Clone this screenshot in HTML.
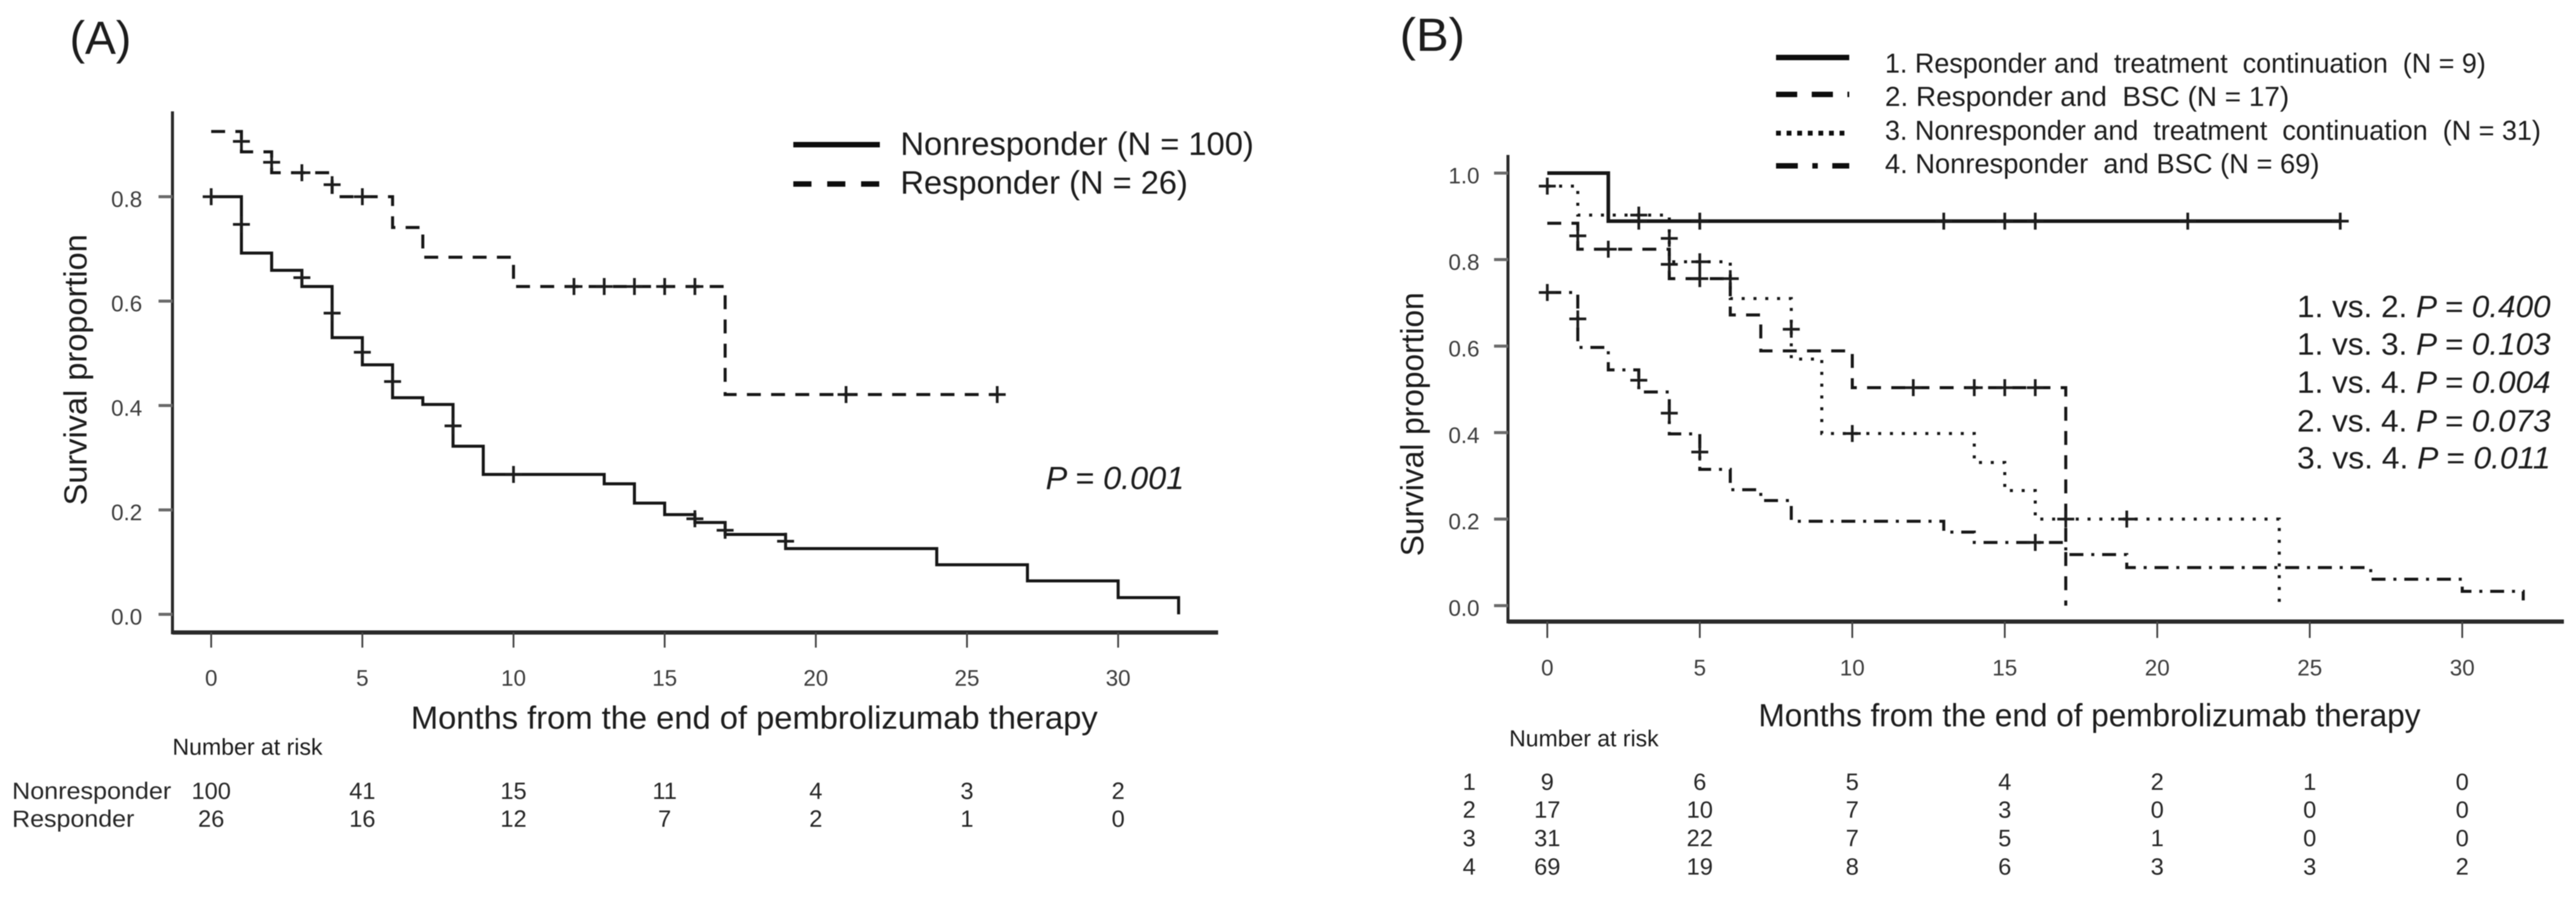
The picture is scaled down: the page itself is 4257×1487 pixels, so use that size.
<!DOCTYPE html>
<html lang="en">
<head>
<meta charset="utf-8">
<title>Kaplan-Meier survival curves</title>
<style>
html,body{margin:0;padding:0;background:#fff;}
svg{display:block;}
text{font-family:"Liberation Sans",sans-serif;fill:#1c1c1c;}
.tick{font-size:37px;fill:#3e3e3e;}
.risk{font-size:39px;fill:#262626;}
.axis-title{font-size:53px;}
.legend{font-size:54px;}
.legend-b{font-size:45px;}
.pval{font-size:51px;}
</style>
</head>
<body>
<svg id="chart" xmlns="http://www.w3.org/2000/svg" width="4257" height="1487" viewBox="0 0 4257 1487">
  <defs><filter id="soft" x="-2%" y="-2%" width="104%" height="104%"><feGaussianBlur stdDeviation="0.9"/></filter></defs>
  <rect width="4257" height="1487" fill="#fff"/>
  <g id="root" filter="url(#soft)">
    <g id="panelA">
      <text x="115" y="89" font-size="77" textLength="102" lengthAdjust="spacingAndGlyphs">(A)</text>
      <text class="axis-title" transform="translate(143,835) rotate(-90)" textLength="448" lengthAdjust="spacingAndGlyphs">Survival proportion</text>
      <text class="axis-title" x="679" y="1204" textLength="1135" lengthAdjust="spacingAndGlyphs">Months from the end of pembrolizumab therapy</text>
      <text class="legend" x="1488" y="256" textLength="584" lengthAdjust="spacingAndGlyphs">Nonresponder (N = 100)</text>
      <text class="legend" x="1488" y="320" textLength="475" lengthAdjust="spacingAndGlyphs">Responder (N = 26)</text>
      <line x1="1311" x2="1454" y1="239" y2="239" stroke="#111" stroke-width="9"/>
      <line x1="1311" x2="1454" y1="304" y2="304" stroke="#111" stroke-width="9" stroke-dasharray="30 26"/>
      <text x="1728" y="808" font-size="53" font-style="italic" textLength="229" lengthAdjust="spacingAndGlyphs">P = 0.001</text>
      <text x="285" y="1247" font-size="38" textLength="248" lengthAdjust="spacingAndGlyphs">Number at risk</text>
      <text class="risk" x="20" y="1320" textLength="263" lengthAdjust="spacingAndGlyphs">Nonresponder</text>
      <text class="risk" x="20" y="1366" textLength="202" lengthAdjust="spacingAndGlyphs">Responder</text>
    </g>
    <g id="panelB">
      <text x="2313" y="84" font-size="77" textLength="108" lengthAdjust="spacingAndGlyphs">(B)</text>
      <text class="axis-title" transform="translate(2352,919) rotate(-90)" textLength="436" lengthAdjust="spacingAndGlyphs">Survival proportion</text>
      <text class="axis-title" x="2906" y="1200" textLength="1094" lengthAdjust="spacingAndGlyphs">Months from the end of pembrolizumab therapy</text>
      <line x1="2935" x2="3056" y1="95" y2="95" stroke="#111" stroke-width="9"/>
      <line x1="2935" x2="3056" y1="156" y2="156" stroke="#111" stroke-width="9" stroke-dasharray="35 24"/>
      <line x1="2935" x2="3056" y1="220" y2="220" stroke="#111" stroke-width="8" stroke-dasharray="8 9.5"/>
      <line x1="2935" x2="3056" y1="274" y2="274" stroke="#111" stroke-width="9" stroke-dasharray="36 24 9 24"/>
      <text class="legend-b" xml:space="preserve" x="3115" y="120" textLength="993" lengthAdjust="spacingAndGlyphs">1. Responder and  treatment  continuation  (N = 9)</text>
      <text class="legend-b" xml:space="preserve" x="3115" y="175" textLength="668" lengthAdjust="spacingAndGlyphs">2. Responder and  BSC (N = 17)</text>
      <text class="legend-b" xml:space="preserve" x="3115" y="231" textLength="1084" lengthAdjust="spacingAndGlyphs">3. Nonresponder and  treatment  continuation  (N = 31)</text>
      <text class="legend-b" xml:space="preserve" x="3115" y="286" textLength="718" lengthAdjust="spacingAndGlyphs">4. Nonresponder  and BSC (N = 69)</text>
      <text class="pval" x="3796" y="524" textLength="419" lengthAdjust="spacingAndGlyphs">1. vs. 2. <tspan font-style="italic">P = 0.400</tspan></text>
      <text class="pval" x="3796" y="586" textLength="419" lengthAdjust="spacingAndGlyphs">1. vs. 3. <tspan font-style="italic">P = 0.103</tspan></text>
      <text class="pval" x="3796" y="649" textLength="419" lengthAdjust="spacingAndGlyphs">1. vs. 4. <tspan font-style="italic">P = 0.004</tspan></text>
      <text class="pval" x="3796" y="713" textLength="419" lengthAdjust="spacingAndGlyphs">2. vs. 4. <tspan font-style="italic">P = 0.073</tspan></text>
      <text class="pval" x="3796" y="774" textLength="419" lengthAdjust="spacingAndGlyphs">3. vs. 4. <tspan font-style="italic">P = 0.011</tspan></text>
      <text x="2494" y="1233" font-size="38" textLength="247" lengthAdjust="spacingAndGlyphs">Number at risk</text>
    </g>
  </g>
</svg>
<script>
// ---------- shared tick labels ----------
const xTickLabels = [0, 5, 10, 15, 20, 25, 30];
const yTickLabelsA = ['0.0', '0.2', '0.4', '0.6', '0.8'];
const yTickLabelsB = ['0.0', '0.2', '0.4', '0.6', '0.8', '1.0'];

// ---------- panel A data ----------
const nonresponderMonths = [0, 1, 2, 3, 4, 5, 6, 7, 8, 9, 13, 14, 15, 16, 17, 19, 24, 27, 30, 32];
const nonresponderSurvival = [0.8, 0.692, 0.659, 0.628, 0.53, 0.478, 0.415, 0.402, 0.322, 0.268, 0.25, 0.213, 0.191, 0.176, 0.153, 0.126, 0.095, 0.064, 0.032, 0];
const nonresponderCensorMonths = [0, 1, 3, 4, 5, 6, 8, 10, 16, 17, 19];
const nonresponderCensorSurvival = [0.8, 0.747, 0.645, 0.577, 0.502, 0.446, 0.361, 0.268, 0.183, 0.161, 0.14];
const responderMonths = [0, 1, 2, 4, 6, 7, 10, 17, 26];
const responderSurvival = [0.925, 0.886, 0.846, 0.8, 0.741, 0.684, 0.628, 0.421, 0.421];
const responderCensorMonths = [1, 2, 3, 4, 5, 12, 13, 14, 15, 16, 21, 26];
const responderCensorSurvival = [0.906, 0.866, 0.846, 0.823, 0.8, 0.628, 0.628, 0.628, 0.628, 0.628, 0.421, 0.421];
const riskNonresponder = [100, 41, 15, 11, 4, 3, 2];
const riskResponder = [26, 16, 12, 7, 2, 1, 0];

// ---------- panel B data ----------
const group1Months = [0, 2, 26];
const group1Survival = [1, 0.889, 0.889];
const group1CensorMonths = [3, 5, 13, 15, 16, 21, 26];
const group1CensorSurvival = [0.889, 0.889, 0.889, 0.889, 0.889, 0.889, 0.889];
const group2Months = [0, 1, 4, 6, 7, 10, 17];
const group2Survival = [0.884, 0.824, 0.756, 0.672, 0.589, 0.504, 0];
const group2CensorMonths = [1, 2, 4, 4, 5, 6, 12, 14, 15, 16];
const group2CensorSurvival = [0.855, 0.824, 0.849, 0.789, 0.756, 0.756, 0.504, 0.504, 0.504, 0.504];
const group3Months = [0, 1, 4, 6, 8, 9, 14, 15, 16, 24];
const group3Survival = [0.97, 0.903, 0.795, 0.71, 0.57, 0.398, 0.331, 0.266, 0.2, 0];
const group3CensorMonths = [0, 3, 5, 8, 10, 17, 19];
const group3CensorSurvival = [0.97, 0.903, 0.795, 0.639, 0.398, 0.2, 0.2];
const group4Months = [0, 1, 2, 3, 4, 5, 6, 7, 8, 13, 14, 17, 19, 27, 30, 32];
const group4Survival = [0.724, 0.597, 0.545, 0.494, 0.397, 0.315, 0.268, 0.243, 0.195, 0.17, 0.146, 0.118, 0.088, 0.061, 0.033, 0.012];
const group4CensorMonths = [0, 1, 3, 4, 5, 16];
const group4CensorSurvival = [0.724, 0.663, 0.521, 0.445, 0.355, 0.146];
const riskGroup1 = [9, 6, 5, 4, 2, 1, 0];
const riskGroup2 = [17, 10, 7, 3, 0, 0, 0];
const riskGroup3 = [31, 22, 7, 5, 1, 0, 0];
const riskGroup4 = [69, 19, 8, 6, 3, 3, 2];

// ---------- axis functions ----------
const xA = m => 349 + 49.96 * m;
const yA = s => 1015 - 862.5 * s;
const xB = m => 2557 + 50.4 * m;
const yB = s => 1000.6 - 714.6 * s;

const NS = 'http://www.w3.org/2000/svg';
const panelA = document.getElementById('panelA');
const panelB = document.getElementById('panelB');

function make(tag, parent, name) {
  const el = document.createElementNS(NS, tag);
  
  
  parent.appendChild(el);
  return el;
}
function line(parent, name, x1, y1, x2, y2, color, width) {
  const el = make('line', parent, name);
  el.setAttribute('x1', x1);
  el.setAttribute('y1', y1);
  el.setAttribute('x2', x2);
  el.setAttribute('y2', y2);
  el.setAttribute('stroke', color);
  el.setAttribute('stroke-width', width);
  return el;
}
function label(parent, name, x, y, str, cls, anchor) {
  const el = make('text', parent, name);
  el.setAttribute('x', x);
  el.setAttribute('y', y);
  el.setAttribute('class', cls);
  el.setAttribute('text-anchor', anchor);
  el.textContent = str;
  return el;
}
function drawAxes(parent, suffix, xf, yf, yLabels, cfg) {
  line(parent, 'y-axis-' + suffix, cfg.axisX, cfg.top, cfg.axisX, cfg.axisY + 3, '#2a2a2a', 5);
  line(parent, 'x-axis-' + suffix, cfg.axisX, cfg.axisY, cfg.right, cfg.axisY, '#2a2a2a', 7);
  xTickLabels.forEach(t => {
    line(parent, 'x-tick-' + suffix + '-' + t, xf(t), cfg.axisY, xf(t), cfg.tickEnd, '#444', 3);
    label(parent, 'x-tick-label-' + suffix + '-' + t, xf(t), cfg.tickBase, String(t), 'tick', 'middle');
  });
  yLabels.forEach(t => {
    const v = parseFloat(t);
    line(parent, 'y-tick-' + suffix + '-' + t, cfg.axisX - 23, yf(v), cfg.axisX, yf(v), '#6a6a6a', 5);
    label(parent, 'y-tick-label-' + suffix + '-' + t, cfg.labelRight, yf(v) + 17, t, 'tick', 'end');
  });
}
function drawSeries(parent, name, xf, yf, months, surv, cMonths, cSurv, dash, width) {
  const g = make('g', parent, name);
  const p = make('path', g, name + '-curve');
  let d = 'M' + xf(months[0]) + ' ' + yf(surv[0]);
  for (let i = 1; i < months.length; i++) {
    d += ' H' + xf(months[i]) + ' V' + yf(surv[i]);
  }
  p.setAttribute('d', d);
  p.setAttribute('fill', 'none');
  p.setAttribute('stroke', '#161616');
  p.setAttribute('stroke-width', width);
  if (dash) p.setAttribute('stroke-dasharray', dash);
  cMonths.forEach((m, i) => {
    const cx = xf(m);
    const cy = yf(cSurv[i]);
    const c = make('path', g, name + '-censor-mark');
    c.setAttribute('d', 'M' + (cx - 14) + ' ' + cy + ' H' + (cx + 14) + ' M' + cx + ' ' + (cy - 14) + ' V' + (cy + 14));
    c.setAttribute('fill', 'none');
    c.setAttribute('stroke', '#1a1a1a');
    c.setAttribute('stroke-width', 4.5);
  });
}
function drawRisk(parent, name, xf, values, y) {
  values.forEach((v, i) => {
    label(parent, name + '-' + xTickLabels[i], xf(xTickLabels[i]), y, String(v), 'risk', 'middle');
  });
}

// ---------- panel A ----------
drawAxes(panelA, 'a', xA, yA, yTickLabelsA, {axisX: 285, axisY: 1045, top: 184, right: 2013, tickEnd: 1070, tickBase: 1133, labelRight: 235});
drawSeries(panelA, 'nonresponder', xA, yA, nonresponderMonths, nonresponderSurvival, nonresponderCensorMonths, nonresponderCensorSurvival, null, 5);
drawSeries(panelA, 'responder', xA, yA, responderMonths, responderSurvival, responderCensorMonths, responderCensorSurvival, '23 17', 5);
drawRisk(panelA, 'risk-nonresponder', xA, riskNonresponder, 1320);
drawRisk(panelA, 'risk-responder', xA, riskResponder, 1366);

// ---------- panel B ----------
drawAxes(panelB, 'b', xB, yB, yTickLabelsB, {axisX: 2492, axisY: 1027, top: 256, right: 4237, tickEnd: 1054, tickBase: 1116, labelRight: 2445});
drawSeries(panelB, 'group-1', xB, yB, group1Months, group1Survival, group1CensorMonths, group1CensorSurvival, null, 6);
drawSeries(panelB, 'group-2', xB, yB, group2Months, group2Survival, group2CensorMonths, group2CensorSurvival, '23 17', 5);
drawSeries(panelB, 'group-3', xB, yB, group3Months, group3Survival, group3CensorMonths, group3CensorSurvival, '5 14.5', 5);
drawSeries(panelB, 'group-4', xB, yB, group4Months, group4Survival, group4CensorMonths, group4CensorSurvival, '23 13 5 13', 5);
drawRisk(panelB, 'risk-group-1', xB, riskGroup1, 1305);
drawRisk(panelB, 'risk-group-2', xB, riskGroup2, 1351);
drawRisk(panelB, 'risk-group-3', xB, riskGroup3, 1398);
drawRisk(panelB, 'risk-group-4', xB, riskGroup4, 1445);
['1', '2', '3', '4'].forEach((t, i) => {
  label(panelB, 'risk-row-label-' + t, 2428, [1305, 1351, 1398, 1445][i], t, 'risk', 'middle');
});
</script>
</body>
</html>
